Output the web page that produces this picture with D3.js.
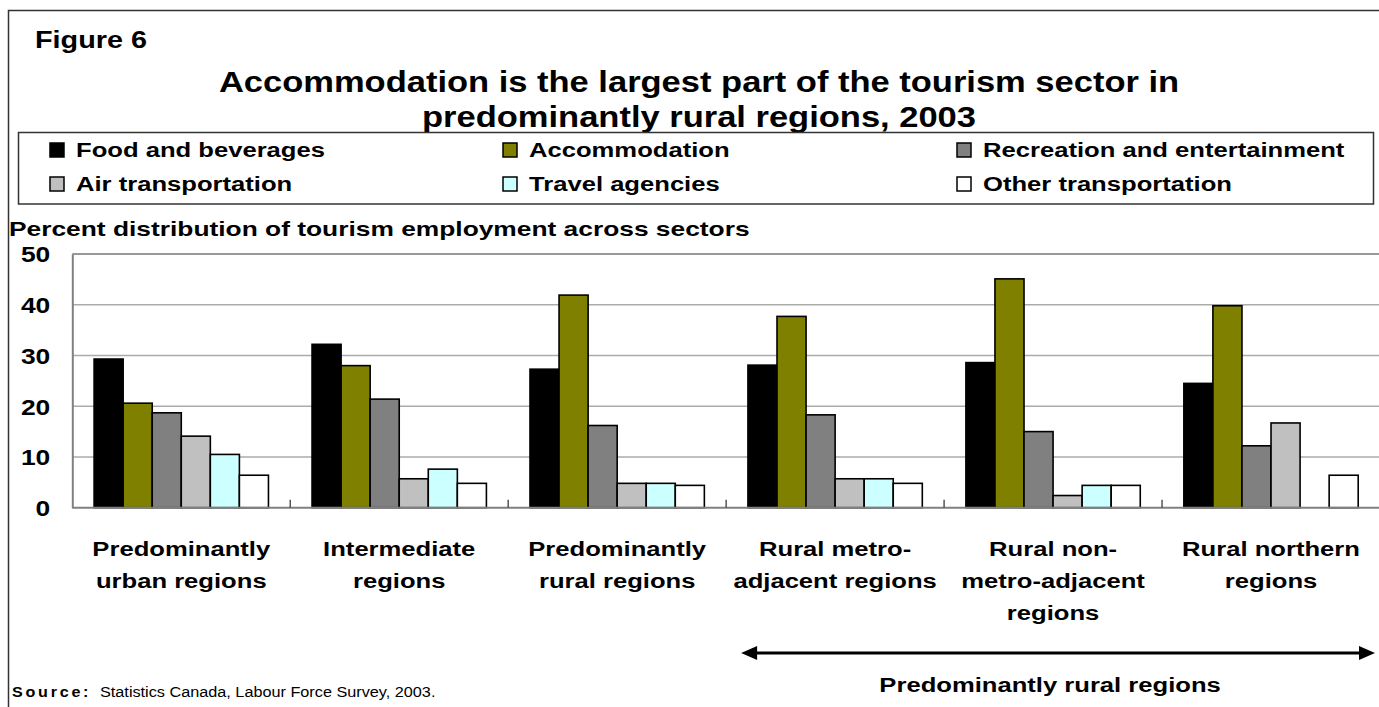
<!DOCTYPE html>
<html>
<head>
<meta charset="utf-8">
<script src="https://cdn.jsdelivr.net/npm/d3@7"></script>
<style>
  html, body { margin: 0; padding: 0; background: #fff; }
  svg { display: block; font-family: "Liberation Sans", Arial, sans-serif; }
</style>
</head>
<body>
<svg id="chart" width="1379" height="707"></svg>
<script>
// Regions (x axis) and the lines used for their labels
const categories = [
  "Predominantly urban regions",
  "Intermediate regions",
  "Predominantly rural regions",
  "Rural metro-adjacent regions",
  "Rural non-metro-adjacent regions",
  "Rural northern regions"
];
const categoryLines = [
  ["Predominantly", "urban regions"],
  ["Intermediate", "regions"],
  ["Predominantly", "rural regions"],
  ["Rural metro-", "adjacent regions"],
  ["Rural non-", "metro-adjacent", "regions"],
  ["Rural northern", "regions"]
];

// Tourism sectors (series)
const sectors = [
  "Food and beverages",
  "Accommodation",
  "Recreation and entertainment",
  "Air transportation",
  "Travel agencies",
  "Other transportation"
];

// Percent distribution of tourism employment, one array per sector
const foodBeverages   = [29.3, 32.2, 27.3, 28.1, 28.6, 24.5];
const accommodation   = [20.6, 28.0, 41.9, 37.7, 45.1, 39.8];
const recreation      = [18.7, 21.4, 16.2, 18.3, 15.0, 12.2];
const airTransport    = [14.1,  5.7,  4.8,  5.7,  2.4, 16.7];
const travelAgencies  = [10.5,  7.6,  4.8,  5.7,  4.4, null];
const otherTransport  = [ 6.4,  4.8,  4.4,  4.8,  4.4,  6.4];

const yTicks = [0, 10, 20, 30, 40, 50];

const sectorColors = ["#000000", "#808000", "#808080", "#C0C0C0", "#CCFFFF", "#FFFFFF"];

const seriesValues = [foodBeverages, accommodation, recreation, airTransport, travelAgencies, otherTransport];

// ---- layout ----
const svg = d3.select("#chart");
const FONT_BOLD = 700;

function stretchText(parent, x, y, str, size, sx, anchor, weight) {
  return parent.append("text")
    .attr("transform", `translate(${x},${y}) scale(${sx},1)`)
    .attr("text-anchor", anchor || "start")
    .style("font-size", size + "px")
    .style("font-weight", weight == null ? FONT_BOLD : weight)
    .attr("fill", "#000")
    .text(str);
}

// outer figure frame
svg.append("rect")
  .attr("x", 8.5).attr("y", 10.5)
  .attr("width", 1400).attr("height", 720)
  .attr("fill", "none").attr("stroke", "#333").attr("stroke-width", 1.5);

// heading
stretchText(svg, 35, 48, "Figure 6", 24, 1.2, "start");
stretchText(svg, 699, 92, "Accommodation is the largest part of the tourism sector in", 29, 1.19, "middle");
stretchText(svg, 699, 127, "predominantly rural regions, 2003", 29, 1.19, "middle");

// legend
svg.append("rect")
  .attr("x", 18.5).attr("y", 132.5)
  .attr("width", 1355).attr("height", 71.5)
  .attr("fill", "#fff").attr("stroke", "#333").attr("stroke-width", 1.5);

const legendCols = [50, 503, 957];
const legendRows = [157, 191];
sectors.forEach((name, i) => {
  const cx = legendCols[i % 3];
  const by = legendRows[Math.floor(i / 3)];
  svg.append("rect")
    .attr("x", cx).attr("y", by - 14)
    .attr("width", 14).attr("height", 14)
    .attr("fill", sectorColors[i]).attr("stroke", "#000").attr("stroke-width", 1.5);
  stretchText(svg, cx + 26, by, name, 21, 1.22, "start");
});

// y-axis title
stretchText(svg, 9, 236, "Percent distribution of tourism employment across sectors", 21, 1.255, "start");

// plot area
const plot = { left: 72.3, right: 1380, top: 254, bottom: 507.7 };

const x = d3.scaleBand()
  .domain(categories)
  .range([plot.left, plot.right])
  .paddingInner(0).paddingOuter(0);

const bw = x.bandwidth();
const xs = d3.scaleBand()
  .domain(sectors)
  .range([bw * 0.1, bw * 0.9])
  .padding(0);

const y = d3.scaleLinear()
  .domain([0, 50])
  .range([plot.bottom, plot.top]);

// gridlines
const grid = svg.append("g").attr("class", "grid");
grid.selectAll("line")
  .data(yTicks.filter(t => t > 0))
  .join("line")
  .attr("x1", plot.left).attr("x2", plot.right)
  .attr("y1", d => y(d)).attr("y2", d => y(d))
  .attr("stroke", d => d === 50 ? "#999" : "#ababab")
  .attr("stroke-width", d => d === 50 ? 2 : 1.5);

// y-axis
const yAxis = svg.append("g")
  .attr("transform", `translate(${plot.left},0)`)
  .call(d3.axisLeft(y).tickValues(yTicks).tickSize(0).tickPadding(0));
yAxis.select(".domain").attr("stroke", "#808080").attr("stroke-width", 2);
yAxis.selectAll(".tick text")
  .attr("x", null).attr("dy", "0.36em")
  .attr("text-anchor", "end")
  .attr("transform", "translate(-22,0) scale(1.2,1)")
  .style("font-size", "22px")
  .style("font-weight", FONT_BOLD)
  .style("font-family", "\"Liberation Sans\", Arial, sans-serif")
  .attr("fill", "#000");

// bars
const groups = svg.append("g").selectAll("g")
  .data(categories)
  .join("g")
  .attr("transform", d => `translate(${x(d)},0)`);

groups.selectAll("rect")
  .data((c, ci) => sectors.map((s, si) => ({ sector: s, si, value: seriesValues[si][ci] }))
    .filter(d => d.value != null))
  .join("rect")
  .attr("x", d => xs(d.sector))
  .attr("width", xs.bandwidth())
  .attr("y", d => y(d.value))
  .attr("height", d => y(0) - y(d.value))
  .attr("fill", d => sectorColors[d.si])
  .attr("stroke", "#000")
  .attr("stroke-width", 1.6);

// category axis baseline and inward ticks between regions
svg.append("line")
  .attr("x1", plot.left).attr("x2", plot.right)
  .attr("y1", y(0)).attr("y2", y(0))
  .attr("stroke", "#808080").attr("stroke-width", 2);
svg.append("g").selectAll("line")
  .data(categories.slice(1))
  .join("line")
  .attr("x1", d => x(d)).attr("x2", d => x(d))
  .attr("y1", y(0)).attr("y2", y(0) - 8)
  .attr("stroke", "#555").attr("stroke-width", 1.5);

// category labels
const lineY = [556, 588, 620];
categoryLines.forEach((lines, i) => {
  const cx = x(categories[i]) + bw / 2;
  lines.forEach((ln, j) => stretchText(svg, cx, lineY[j], ln, 21, 1.22, "middle"));
});

// span arrow for the rural sub-regions
const arrowY = 653;
const arrowL = x(categories[3]) + 15;
const arrowR = plot.right - 5;
svg.append("line")
  .attr("x1", arrowL + 12).attr("x2", arrowR - 12)
  .attr("y1", arrowY).attr("y2", arrowY)
  .attr("stroke", "#000").attr("stroke-width", 3);
svg.append("path")
  .attr("d", `M${arrowL},${arrowY} L${arrowL + 16},${arrowY - 7} L${arrowL + 16},${arrowY + 7} Z`)
  .attr("fill", "#000");
svg.append("path")
  .attr("d", `M${arrowR},${arrowY} L${arrowR - 16},${arrowY - 7} L${arrowR - 16},${arrowY + 7} Z`)
  .attr("fill", "#000");
stretchText(svg, (arrowL + arrowR) / 2 - 8, 692, "Predominantly rural regions", 21, 1.22, "middle");

// source note
const src = stretchText(svg, 12, 697, "Source:", 14, 1.15, "start");
src.style("letter-spacing", "2.4px");
stretchText(svg, 100, 697, "Statistics Canada, Labour Force Survey, 2003.", 14, 1.16, "start", 400);
</script>
</body>
</html>
